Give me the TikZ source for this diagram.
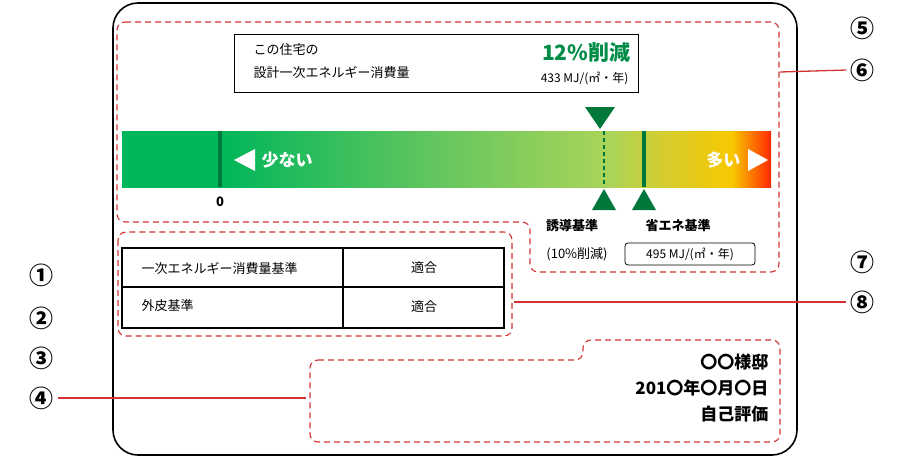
\documentclass[tikz,border=0pt]{standalone}
\usepackage{fontspec}
\setmainfont{Noto Sans CJK JP}
\definecolor{dg}{RGB}{0,120,60}
\definecolor{tg}{RGB}{0,140,70}
\definecolor{rd}{RGB}{210,50,50}
\definecolor{c0}{RGB}{0,182,90}
\definecolor{c1}{RGB}{90,196,95}
\definecolor{c2}{RGB}{170,212,90}
\definecolor{c3}{RGB}{215,204,45}
\definecolor{c4}{RGB}{248,200,0}
\definecolor{c5}{RGB}{255,40,0}
\pgfdeclarehorizontalshading{barsh}{100bp}{color(0bp)=(c0); color(32.5bp)=(c0); color(47.5bp)=(c1); color(62.5bp)=(c2); color(67bp)=(c3); color(72bp)=(c4); color(75bp)=(c5); color(100bp)=(c5)}
\tikzset{
 dsh/.style={rd,line width=1.1pt,dash pattern=on 6pt off 4pt,rounded corners=8pt},
 lead/.style={rd,line width=1.3pt},
 num/.style={font=\fontsize{24}{24}\selectfont\bfseries},
 sm/.style={font=\fontsize{13}{13}\selectfont},
 smb/.style={font=\fontsize{13}{13}\selectfont\bfseries},
 big/.style={font=\fontsize{17}{17}\selectfont\bfseries},
 tri/.style={fill=dg,draw=none},
}
\begin{document}
\begin{tikzpicture}[x=1pt,y=-1pt]
\useasboundingbox (0,0) rectangle (906,458);
% outer
\draw[line width=1.6pt,rounded corners=25pt] (113,3) rectangle (797,455);
% dashed regions
\draw[dsh] (117,22) -- (779,22) -- (779,272) -- (530,272) -- (530,222) -- (117,222) -- cycle;
\draw[dsh] (118,232) rectangle (512,336);
\draw[dsh] (310,360) -- (583,360) -- (583,340) -- (780,340) -- (780,442) -- (310,442) -- cycle;
% numbers
\node[num] (n1) at (42,275) {①};
\node[num] (n2) at (42,318) {②};
\node[num] (n3) at (42,358) {③};
\node[num] (n4) at (42,398) {④};
\node[num] (n5) at (862,28) {⑤};
\node[num] (n6) at (862,70) {⑥};
\node[num] (n7) at (862,262) {⑦};
\node[num] (n8) at (862,302) {⑧};
\coordinate (e4) at (306,398);
\coordinate (e6) at (780,72);
\coordinate (e8) at (514,302);
\draw[lead] (n4.east) -- (e4);
\draw[lead] (n6.west) -- (e6);
\draw[lead] (n8.west) -- (e8);
% top box
\node[draw,line width=1.3pt,minimum width=404pt,minimum height=58pt,anchor=north west,inner sep=0] (tb) at (234,34) {};
\node[sm,anchor=west] (t1) at (250,50) {この住宅の};
\node[sm,anchor=west] (t2) at (250,73) {設計一次エネルギー消費量};
\node[font=\fontsize{21}{21}\selectfont\bfseries,text=tg,anchor=east] (t3) at (634,52) {12\%削減};
\node[font=\fontsize{12}{12}\selectfont,anchor=east] (t4) at (632,78) {433 MJ/(㎡・年)};
% bar
\shade[shading=barsh] (122,131) rectangle (771,187);
\node[minimum width=649pt,minimum height=56pt,anchor=north west,inner sep=0] (bar) at (122,131) {};
\draw[dg,line width=4pt] (220,131) -- (220,187);
\draw[dg,line width=1.3pt,dash pattern=on 4pt off 3pt] (604,131) -- (604,187);
\draw[dg,line width=4pt] (644,131) -- (644,187);
\fill[white] (234,160) -- (255,149) -- (255,171) -- cycle;
\node[big,text=white,anchor=west] (few) at (258,160) {少ない};
\fill[white] (768,160) -- (748,149) -- (748,171) -- cycle;
\node[big,text=white,anchor=east] (many) at (744,160) {多い};
\node[smb] (zero) at (220,202) {0};
\fill[tri] (585,107) -- (615,107) -- (600,129) -- cycle;
\fill[tri] (592,210) -- (616,210) -- (604,189) -- cycle;
\fill[tri] (632,210) -- (656,210) -- (644,189) -- cycle;
\node[smb] (yu) at (572,226) {誘導基準};
\node[smb] (sh) at (678,226) {省エネ基準};
\node[sm] (pc) at (577,254) {(10\%削減)};
\node[draw,rounded corners=3pt,line width=0.8pt,minimum width=130pt,minimum height=22pt,inner sep=0,font=\fontsize{12}{12}\selectfont] (mj) at (690,254) {495 MJ/(㎡・年)};
% table
\draw[line width=2.2pt] (122,248) rectangle (504,328);
\draw[line width=2.2pt] (122,287) -- (504,287);
\draw[line width=2.2pt] (343,248) -- (343,328);
\node[sm,anchor=west] (r1) at (138,268) {一次エネルギー消費量基準};
\node[sm] (r1b) at (424,268) {適合};
\node[sm,anchor=west] (r2) at (138,306) {外皮基準};
\node[sm] (r2b) at (424,307) {適合};
% bottom right
\node[big,anchor=east] (b1) at (772,362) {〇〇様邸};
\node[big,anchor=east] (b2) at (772,388) {201〇年〇月〇日};
\node[big,anchor=east] (b3) at (772,414) {自己評価};
\end{tikzpicture}
\end{document}
